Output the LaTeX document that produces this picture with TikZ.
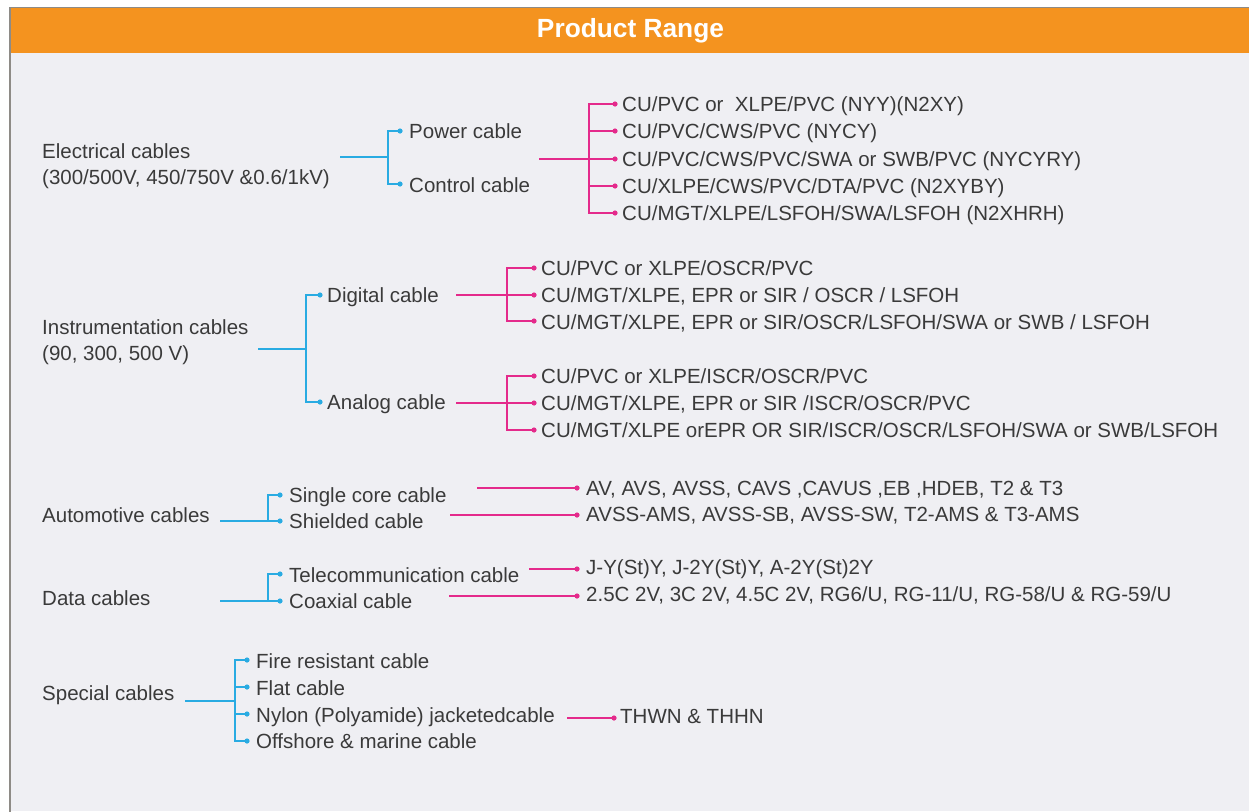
\documentclass[tikz,border=0pt]{standalone}
\usepackage{fontspec}
\setmainfont{Liberation Sans}
\definecolor{txtc}{HTML}{3A3A3A}
\definecolor{cyanc}{HTML}{29ABE2}
\definecolor{pinkc}{HTML}{E42A8B}
\definecolor{bodyc}{HTML}{EFEFF3}
\definecolor{orangec}{HTML}{F4931F}
\definecolor{framec}{HTML}{8E8B86}
\begin{document}
\begin{tikzpicture}[x=1pt,y=-1pt,
 txt/.style={anchor=west, inner sep=0pt, text height=14.6pt, text depth=0pt, text=txtc, font=\fontsize{20.5}{24}\selectfont},
 cl/.style={draw=cyanc, line width=1.4pt},
 pl/.style={draw=pinkc, line width=1.4pt},
 cdot/.style={circle, fill=cyanc, inner sep=0pt, minimum size=5.2pt},
 pdot/.style={circle, fill=pinkc, inner sep=0pt, minimum size=5.2pt}]
\useasboundingbox (0,0) rectangle (1249,811);
% frame and banner
\fill[white] (0,0) rectangle (1249,811);
\fill[bodyc] (10,8) rectangle (1249,811);
\fill[orangec] (10,8) rectangle (1249,53);
\draw[framec, line width=1.5pt] (10,830) -- (10,7.5) -- (1260,7.5);
\node[font=\fontsize{26.3}{30}\selectfont\bfseries, text=white, inner sep=0pt] (title) at (630.5,31) {Product Range};

% ---------- Electrical
\node[txt] (elec1) at (42,151) {Electrical cables};
\node[txt] (elec2) at (42,177) {(300/500V, 450/750V \&0.6/1kV)};
\coordinate (e0) at (340,157);
\coordinate (ej) at (388,157);
\node[cdot] (pwd) at (400,131) {};
\node[cdot] (ctd) at (400,184) {};
\node[txt] (pw) at (409,131) {Power cable};
\node[txt] (ct) at (409,185) {Control cable};
\draw[cl] (e0) -- (ej);
\draw[cl] (pwd.center) -| (ej);
\draw[cl] (ctd.center) -| (ej);

\coordinate (p0) at (539,159);
\coordinate (pj) at (589,159);
\node[pdot] (pd1) at (615,104) {};
\node[pdot] (pd2) at (615,131) {};
\node[pdot] (pd3) at (615,159) {};
\node[pdot] (pd4) at (615,186) {};
\node[pdot] (pd5) at (615,213) {};
\node[txt] (pt1) at (622,104) {CU/PVC or\ \ XLPE/PVC (NYY)(N2XY)};
\node[txt] (pt2) at (622,131) {CU/PVC/CWS/PVC (NYCY)};
\node[txt] (pt3) at (622,159) {CU/PVC/CWS/PVC/SWA or SWB/PVC (NYCYRY)};
\node[txt] (pt4) at (622,186) {CU/XLPE/CWS/PVC/DTA/PVC (N2XYBY)};
\node[txt] (pt5) at (622,213) {CU/MGT/XLPE/LSFOH/SWA/LSFOH (N2XHRH)};
\draw[pl] (p0) -- (pj);
\foreach \d in {pd1,pd2,pd3,pd4,pd5} \draw[pl] (\d.center) -| (pj);

% ---------- Instrumentation
\node[txt] (ins1) at (42,327) {Instrumentation cables};
\node[txt] (ins2) at (42,353) {(90, 300, 500 V)};
\coordinate (i0) at (258,349);
\coordinate (ij) at (306,349);
\node[cdot] (dgd) at (320,295) {};
\node[cdot] (and) at (320,402) {};
\node[txt] (dg) at (327,295) {Digital cable};
\node[txt] (an) at (327,402) {Analog cable};
\draw[cl] (i0) -- (ij);
\draw[cl] (dgd.center) -| (ij);
\draw[cl] (and.center) -| (ij);

\coordinate (d0) at (456,295);
\coordinate (dj) at (507,295);
\node[pdot] (dd1) at (534,268) {};
\node[pdot] (dd2) at (534,295) {};
\node[pdot] (dd3) at (534,321) {};
\node[txt] (dt1) at (541,268) {CU/PVC or XLPE/OSCR/PVC};
\node[txt] (dt2) at (541,295) {CU/MGT/XLPE, EPR or SIR / OSCR / LSFOH};
\node[txt] (dt3) at (541,322) {CU/MGT/XLPE, EPR or SIR/OSCR/LSFOH/SWA or SWB / LSFOH};
\draw[pl] (d0) -- (dj);
\foreach \d in {dd1,dd2,dd3} \draw[pl] (\d.center) -| (dj);

\coordinate (a0) at (456,403);
\coordinate (aj) at (507,403);
\node[pdot] (ad1) at (534,376) {};
\node[pdot] (ad2) at (534,403) {};
\node[pdot] (ad3) at (534,430) {};
\node[txt] (at1) at (541,376) {CU/PVC or XLPE/ISCR/OSCR/PVC};
\node[txt] (at2) at (541,403) {CU/MGT/XLPE, EPR or SIR /ISCR/OSCR/PVC};
\node[txt] (at3) at (541,430) {CU/MGT/XLPE orEPR OR SIR/ISCR/OSCR/LSFOH/SWA or SWB/LSFOH};
\draw[pl] (a0) -- (aj);
\foreach \d in {ad1,ad2,ad3} \draw[pl] (\d.center) -| (aj);

% ---------- Automotive
\node[txt] (aut) at (42,515) {Automotive cables};
\coordinate (u0) at (220,521);
\coordinate (uj) at (268,521);
\node[cdot] (scd) at (280,495) {};
\node[cdot] (shd) at (280,521) {};
\node[txt] (sc) at (289,495) {Single core cable};
\node[txt] (sh) at (289,521) {Shielded cable};
\draw[cl] (u0) -- (uj);
\draw[cl] (scd.center) -| (uj);
\draw[cl] (shd.center) -| (uj);
\coordinate (us0) at (477,488);
\node[pdot] (usd) at (577,488) {};
\node[txt] (ust) at (586,488) {AV, AVS, AVSS, CAVS ,CAVUS ,EB ,HDEB, T2 \& T3};
\draw[pl] (us0) -- (usd.center);
\coordinate (uh0) at (450,515);
\node[pdot] (uhd) at (577,515) {};
\node[txt] (uht) at (586,514) {AVSS-AMS, AVSS-SB, AVSS-SW, T2-AMS \& T3-AMS};
\draw[pl] (uh0) -- (uhd.center);

% ---------- Data
\node[txt] (dat) at (42,598) {Data cables};
\coordinate (t0) at (220,601);
\coordinate (tj) at (268,601);
\node[cdot] (tcd) at (280,574) {};
\node[cdot] (cxd) at (280,601) {};
\node[txt] (tc) at (289,575) {Telecommunication cable};
\node[txt] (cx) at (289,601) {Coaxial cable};
\draw[cl] (t0) -- (tj);
\draw[cl] (tcd.center) -| (tj);
\draw[cl] (cxd.center) -| (tj);
\coordinate (tt0) at (529,569);
\node[pdot] (ttd) at (577,569) {};
\node[txt] (ttt) at (586,567) {J-Y(St)Y, J-2Y(St)Y, A-2Y(St)2Y};
\draw[pl] (tt0) -- (ttd.center);
\coordinate (tx0) at (449,596);
\node[pdot] (txd) at (577,596) {};
\node[txt] (txt1) at (586,594) {2.5C 2V, 3C 2V, 4.5C 2V, RG6/U, RG-11/U, RG-58/U \& RG-59/U};
\draw[pl] (tx0) -- (txd.center);

% ---------- Special
\node[txt] (spc) at (42,693) {Special cables};
\coordinate (s0) at (185,701);
\coordinate (sj) at (235,701);
\node[cdot] (sd1) at (247,660) {};
\node[cdot] (sd2) at (247,687) {};
\node[cdot] (sd3) at (247,714) {};
\node[cdot] (sd4) at (247,741) {};
\node[txt] (st1) at (256,661) {Fire resistant cable};
\node[txt] (st2) at (256,688) {Flat cable};
\node[txt] (st3) at (256,715) {Nylon (Polyamide) jacketedcable};
\node[txt] (st4) at (256,741) {Offshore \& marine cable};
\draw[cl] (s0) -- (sj);
\foreach \d in {sd1,sd2,sd3,sd4} \draw[cl] (\d.center) -| (sj);
\coordinate (n0) at (567,718);
\node[pdot] (nd) at (614,718) {};
\node[txt] (nt) at (620,716) {THWN \& THHN};
\draw[pl] (n0) -- (nd.center);
\end{tikzpicture}
\end{document}
